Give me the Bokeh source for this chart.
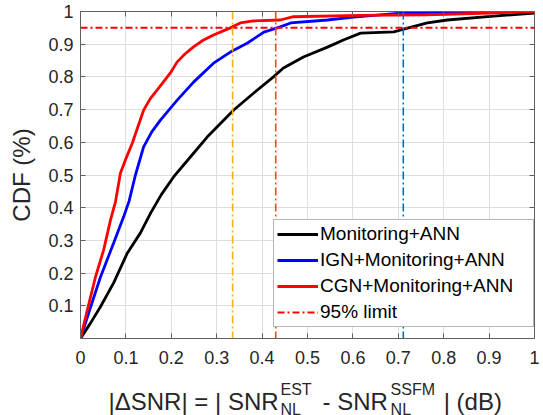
from bokeh.plotting import figure
from bokeh.layouts import column
from bokeh.models import (Range1d, FixedTicker, CustomJSTickFormatter, LinearAxis,
                          Span, Label, Legend, LegendItem)
from bokeh.embed import file_html
from bokeh.resources import INLINE

# ---------------- data ----------------
x_ticks = [0.0, 0.1, 0.2, 0.3, 0.4, 0.5, 0.6, 0.7, 0.8, 0.9, 1.0]
x_tick_labels = ["0", "0.1", "0.2", "0.3", "0.4", "0.5", "0.6", "0.7", "0.8", "0.9", "1"]
y_ticks = [0.1, 0.2, 0.3, 0.4, 0.5, 0.6, 0.7, 0.8, 0.9, 1.0]
y_tick_labels = ["0.1", "0.2", "0.3", "0.4", "0.5", "0.6", "0.7", "0.8", "0.9", "1"]

series_names = ["Monitoring+ANN", "IGN+Monitoring+ANN", "CGN+Monitoring+ANN"]
limit_name = "95% limit"

mon_x = [0, 0.022, 0.044, 0.073, 0.103, 0.132, 0.155, 0.178, 0.205, 0.242, 0.279, 0.337,
         0.381, 0.425, 0.447, 0.491, 0.544, 0.579, 0.617, 0.69, 0.712, 0.764, 0.808, 0.91, 1.0]
mon_y = [0, 0.047, 0.097, 0.17, 0.261, 0.323, 0.385, 0.44, 0.494, 0.555, 0.616, 0.698,
         0.75, 0.8, 0.827, 0.861, 0.891, 0.913, 0.934, 0.938, 0.946, 0.965, 0.974, 0.986, 0.995]

ign_x = [0, 0.018, 0.044, 0.073, 0.095, 0.107, 0.121, 0.139, 0.157, 0.176, 0.213, 0.249, 0.293,
         0.33, 0.367, 0.404, 0.44, 0.463, 0.544, 0.601, 0.705, 0.8, 1.0]
ign_y = [0, 0.078, 0.188, 0.292, 0.372, 0.42, 0.5, 0.586, 0.632, 0.668, 0.729, 0.784, 0.842,
         0.876, 0.903, 0.937, 0.953, 0.965, 0.974, 0.983, 0.995, 0.998, 1.0]

cgn_x = [0, 0.015, 0.033, 0.051, 0.066, 0.077, 0.088, 0.1, 0.114, 0.127, 0.139, 0.153, 0.169,
         0.184, 0.198, 0.213, 0.23, 0.249, 0.27, 0.293, 0.33, 0.352, 0.381, 0.44, 0.469,
         0.617, 0.764, 0.9, 1.0]
cgn_y = [0, 0.087, 0.188, 0.271, 0.362, 0.418, 0.506, 0.55, 0.597, 0.65, 0.698, 0.732, 0.76,
         0.787, 0.812, 0.846, 0.87, 0.892, 0.912, 0.928, 0.95, 0.965, 0.971, 0.974, 0.984,
         0.988, 0.99, 0.995, 1.0]

limit_level = 0.95
# x where each curve reaches the 95% level
cross_x = [0.335, 0.43, 0.711]

# ---------------- styles ----------------
FONT = "Liberation Sans"
TXT = "#262626"
AX = "#5f5f5f"
LEFT, RIGHT = 80, 7
FW, FH = 454, 327
TOP, BOT = 11, 36

xr = Range1d(0, 1)
p = figure(frame_width=FW, frame_height=FH,
           x_range=xr, y_range=Range1d(0, 1),
           output_backend="svg", toolbar_location=None,
           min_border_left=LEFT, min_border_right=RIGHT, min_border_top=TOP,
           min_border_bottom=BOT,
           background_fill_color="white", border_fill_color="white")
p.title = None
p.outline_line_color = None

blank = CustomJSTickFormatter(code="return '';")
xfmt = CustomJSTickFormatter(args=dict(t=x_ticks, l=x_tick_labels),
                             code="const i = t.indexOf(tick); return i >= 0 ? l[i] : '';")
yfmt = CustomJSTickFormatter(args=dict(t=y_ticks, l=y_tick_labels),
                             code="const i = t.indexOf(tick); return i >= 0 ? l[i] : '';")

for ax, tk, fm in ((p.xaxis[0], x_ticks, xfmt), (p.yaxis[0], y_ticks, yfmt)):
    ax.ticker = FixedTicker(ticks=tk)
    ax.formatter = fm
    ax.major_label_text_font = FONT
    ax.major_label_text_font_size = "18px"
    ax.major_label_text_color = TXT
    ax.axis_line_color = AX
    ax.major_tick_line_color = AX
    ax.major_tick_in = 5
    ax.major_tick_out = 0
    ax.minor_tick_line_color = None
p.xaxis.major_label_standoff = 12
p.yaxis.major_label_standoff = 7
p.yaxis.axis_label = "CDF (%)"
p.yaxis.axis_label_text_font = FONT
p.yaxis.axis_label_text_font_size = "24px"
p.yaxis.axis_label_text_font_style = "normal"
p.yaxis.axis_label_text_color = TXT
p.yaxis.axis_label_standoff = 10

for loc, tk in (("above", x_ticks), ("right", y_ticks)):
    a = LinearAxis(ticker=FixedTicker(ticks=tk), formatter=blank)
    a.major_label_text_font_size = "1px"
    a.major_label_standoff = 0
    a.axis_line_color = AX
    a.major_tick_line_color = AX
    a.major_tick_in = 5
    a.major_tick_out = 0
    a.minor_tick_line_color = None
    p.add_layout(a, loc)

p.xgrid.ticker = FixedTicker(ticks=x_ticks)
p.ygrid.ticker = FixedTicker(ticks=y_ticks)
p.grid.grid_line_color = "#dedede"
p.grid.grid_line_width = 1

r_mon = p.line(mon_x, mon_y, line_color="black", line_width=2.8)
r_ign = p.line(ign_x, ign_y, line_color="#0000ff", line_width=2.8)
r_cgn = p.line(cgn_x, cgn_y, line_color="#ff0000", line_width=2.8)

for xv, c in zip(cross_x, ["#EDB120", "#D95319", "#0072BD"]):
    p.add_layout(Span(location=xv, dimension="height", line_color=c,
                      line_dash="8 3 2 3", line_width=1.6))

r_lim = p.line([xr.start, xr.end], [limit_level, limit_level],
               line_color="#ff0000", line_width=2, line_dash="7 3 2 3")

legend = Legend(items=[LegendItem(label=series_names[0], renderers=[r_mon]),
                       LegendItem(label=series_names[1], renderers=[r_ign]),
                       LegendItem(label=series_names[2], renderers=[r_cgn]),
                       LegendItem(label=limit_name, renderers=[r_lim])],
                location=(193, 11))
legend.label_text_font = FONT
legend.label_text_font_size = "19px"
legend.label_text_color = "black"
legend.glyph_width = 41
legend.glyph_height = 20
legend.label_height = 20
legend.label_width = 210
legend.label_standoff = 2
legend.spacing = 4
legend.padding = 3
legend.margin = 0
legend.border_line_color = "#6b6b6b"
legend.border_line_width = 1
legend.background_fill_alpha = 1
p.add_layout(legend)

# ---------- strip under the plot: x-axis title with sub/superscripts (y in px from top) ----------
TH = 415 - (TOP + FH + BOT)
t = figure(frame_width=FW, frame_height=TH, x_range=xr, y_range=Range1d(TH, 0),
           x_axis_type=None, y_axis_type=None,
           output_backend="svg", toolbar_location=None,
           min_border_left=LEFT, min_border_right=RIGHT, min_border_top=0, min_border_bottom=0,
           background_fill_color="white", border_fill_color="white")
t.title = None
t.outline_line_color = None
t.grid.visible = False


def lab(txt, x, y, size):
    t.add_layout(Label(x=x, y=y, text=txt, text_font=FONT, text_font_size=size,
                       text_color=TXT, text_align="left", text_baseline="alphabetic"))


lab("|\u0394SNR| = | SNR", 0.0617, 27, "24px")
lab("EST", 0.4405, 15, "16px")
lab("NL", 0.4405, 35, "16px")
lab("- SNR", 0.533, 27, "24px")
lab("SSFM", 0.683, 15, "16px")
lab("NL", 0.683, 35, "16px")
lab("| (dB)", 0.80, 27, "24px")

layout = column(p, t, spacing=0)
open("out.html", "w").write(file_html(layout, INLINE))
